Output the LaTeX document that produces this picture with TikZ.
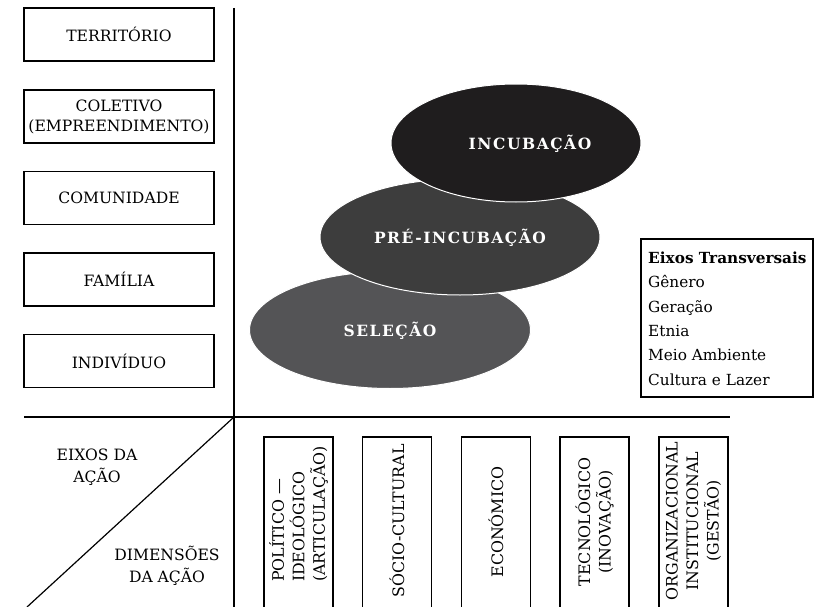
\documentclass[tikz,border=0pt]{standalone}
\usepackage{fontspec}
\setmainfont{DejaVu Serif}
\usetikzlibrary{shapes.geometric}
\definecolor{cinc}{HTML}{1F1D1E}
\definecolor{cpre}{HTML}{3D3D3D}
\definecolor{csel}{HTML}{545456}
\begin{document}
\begin{tikzpicture}[x=1pt,y=-1pt,
  lbox/.style={draw, line width=1.4pt, minimum width=190pt, minimum height=53pt, inner sep=0pt, align=center, font=\fontsize{15.6}{20}\selectfont},
  axis/.style={line width=1.4pt},
  blob/.style={ellipse, draw=white, line width=1pt, inner sep=0pt},
  blobtext/.style={text=white, font=\bfseries\fontsize{15.5}{17}\selectfont\addfontfeatures{LetterSpace=10}},
  vbox/.style={line width=1.4pt},
  vtext/.style={rotate=90, align=center, font=\fontsize{15.8}{20.5}\selectfont, inner sep=0pt},
  plain/.style={align=center, font=\fontsize{15.6}{22}\selectfont, inner sep=0pt}
]
\useasboundingbox (0,0) rectangle (814,607);
% left boxes
\node[lbox] (ter) at (119,34.5) {TERRITÓRIO};
\node[lbox] (col) at (119,116.5) {COLETIVO\\(EMPREENDIMENTO)};
\node[lbox] (com) at (119,198) {COMUNIDADE};
\node[lbox] (fam) at (119,279.5) {FAMÍLIA};
\node[lbox] (ind) at (119,361) {INDIVÍDUO};
% axes
\coordinate (o) at (234,417);
\coordinate (vtop) at (234,8);
\coordinate (vbot) at (234,607);
\coordinate (hl) at (24,417);
\coordinate (hr) at (730,417);
\coordinate (dg) at (27,607);
\draw[axis] (vtop) -- (vbot);
\draw[axis] (hl) -- (hr);
\draw[line width=1.2pt] (o) -- (dg);
% ellipses
\node[blob, fill=csel, minimum width=281pt, minimum height=117pt] (sel) at (390,330) {};
\node[blob, fill=cpre, minimum width=280pt, minimum height=116pt] (pre) at (460,237) {};
\node[blob, fill=cinc, minimum width=250pt, minimum height=118pt] (inc) at (516,143) {};
\node[blobtext] (tsel) at (390,331) {SELEÇÃO};
\node[blobtext] (tpre) at (460,238) {PRÉ-INCUBAÇÃO};
\node[blobtext] (tinc) at (530,144) {INCUBAÇÃO};
% eixos transversais
\node[draw, line width=1.4pt, minimum width=172pt, minimum height=158pt, inner sep=0pt] (etb) at (727,318) {};
\node[anchor=north west, align=left, inner sep=0pt, font=\fontsize{15.3}{24.4}\selectfont] (et) at (648,251.5)
  {\textbf{Eixos Transversais}\\Gênero\\Geração\\Etnia\\Meio Ambiente\\Cultura e Lazer};
% lower left labels
\node[plain] (eix) at (97,467) {EIXOS DA\\AÇÃO};
\node[plain] (dim) at (167,566) {DIMENSÕES\\DA AÇÃO};
% vertical boxes
\foreach \x/\n in {298.5/b1,397/b2,496/b3,594.5/b4,693.5/b5}{
  \coordinate (\n bl) at (\x-34.5,607);
  \coordinate (\n tr) at (\x+34.5,437);
  \coordinate (\n br) at (\x+34.5,607);
  \draw[vbox] (\n bl) |- (\n tr) -- (\n br);
}
\node[vtext, align=left] (t1) at (298.5,514) {POLÍTICO —\\IDEOLÓGICO\\(ARTICULAÇÃO)};
\node[vtext] (t2) at (397,521) {SÓCIO-CULTURAL};
\node[vtext] (t3) at (496,522) {ECONÓMICO};
\node[vtext] (t4) at (594.5,522) {TECNOLÓGICO\\(INOVAÇÃO)};
\node[vtext] (t5) at (693.5,521) {ORGANIZACIONAL\\INSTITUCIONAL\\(GESTÃO)};
\end{tikzpicture}
\end{document}
